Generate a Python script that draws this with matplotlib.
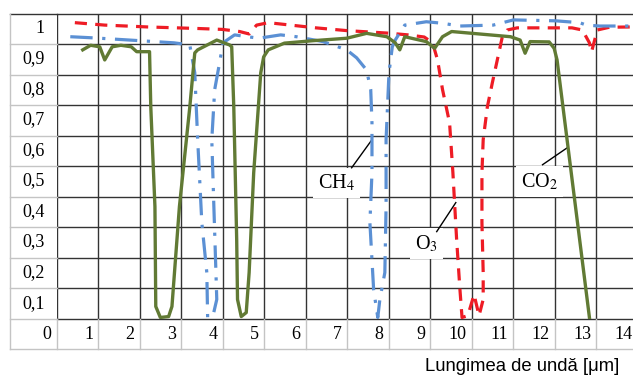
import matplotlib.pyplot as plt

plt.rcParams['mathtext.fontset'] = 'stix'

# transmission curves (x in gridline units, y = fraction)
o3_x = [0.43, 1.15, 2.18, 3.37, 3.98, 4.40, 4.63, 4.81, 5.09, 6.24, 6.98, 7.95, 8.46, 8.85,
        9.05, 9.17, 9.29, 9.46, 9.54, 9.63, 9.71, 9.76, 9.90, 10.05, 10.17, 10.27, 10.27,
        10.24, 10.24, 10.27, 10.37, 10.49, 10.61, 10.73, 10.85, 11.09, 12.41, 12.66, 12.83,
        12.88, 13.02, 13.31, 13.87]
o3_y = [0.970, 0.962, 0.956, 0.951, 0.948, 0.941, 0.933, 0.962, 0.970, 0.953, 0.944, 0.936,
        0.930, 0.923, 0.904, 0.848, 0.751, 0.642, 0.479, 0.260, 0.096, 0.005, 0.011, 0.080,
        0.011, 0.064, 0.152, 0.315, 0.479, 0.587, 0.694, 0.773, 0.848, 0.923, 0.946, 0.953,
        0.953, 0.946, 0.904, 0.874, 0.946, 0.955, 0.956]

ch4_x = [0.32, 0.91, 2.00, 2.82, 3.20, 3.32, 3.39, 3.49, 3.61, 3.63, 3.76, 3.85, 3.83, 3.78,
         3.73, 3.80, 3.93, 4.00, 4.28, 4.86, 5.39, 5.77, 6.41, 6.98, 7.22, 7.46, 7.56, 7.59,
         7.59, 7.54, 7.63, 7.73, 7.78, 7.90, 7.93, 7.93, 8.00, 8.08, 8.15, 8.38, 8.90, 9.29,
         9.71, 10.51, 11.00, 12.02, 12.59, 12.76, 13.07, 13.87]
ch4_y = [0.924, 0.920, 0.911, 0.904, 0.897, 0.806, 0.587, 0.315, 0.152, 0.005, 0.011, 0.064,
         0.152, 0.368, 0.587, 0.751, 0.848, 0.904, 0.930, 0.919, 0.930, 0.924, 0.908, 0.881,
         0.855, 0.815, 0.751, 0.642, 0.479, 0.315, 0.096, 0.005, 0.064, 0.152, 0.368, 0.587,
         0.806, 0.891, 0.913, 0.962, 0.973, 0.968, 0.959, 0.962, 0.979, 0.976, 0.970, 0.962,
         0.959, 0.959]

co2_x = [0.62, 0.81, 1.03, 1.15, 1.33, 1.54, 1.79, 1.92, 2.23, 2.26, 2.36, 2.38, 2.49, 2.69,
         2.77, 2.95, 3.20, 3.32, 3.39, 3.85, 4.16, 4.21, 4.26, 4.33, 4.35, 4.44, 4.56, 4.63,
         4.74, 4.91, 4.98, 5.09, 5.48, 6.17, 6.98, 7.46, 7.95, 8.15, 8.26, 8.38, 8.90, 9.10,
         9.29, 9.51, 10.93, 11.16, 11.28, 11.40, 11.86, 11.98, 12.05, 12.83]
co2_y = [0.881, 0.896, 0.891, 0.848, 0.891, 0.896, 0.891, 0.875, 0.875, 0.694, 0.368, 0.041,
         0.005, 0.008, 0.041, 0.368, 0.694, 0.871, 0.881, 0.913, 0.897, 0.891, 0.694, 0.260,
         0.064, 0.008, 0.021, 0.152, 0.479, 0.806, 0.858, 0.881, 0.903, 0.911, 0.919, 0.935,
         0.924, 0.904, 0.881, 0.924, 0.908, 0.886, 0.924, 0.941, 0.924, 0.913, 0.870, 0.908,
         0.907, 0.886, 0.848, 0.005]

x_ticks = list(range(0, 15))
y_ticks = [0, 0.1, 0.2, 0.3, 0.4, 0.5, 0.6, 0.7, 0.8, 0.9, 1]
y_labels = ['0', '0,1', '0,2', '0,3', '0,4', '0,5', '0,6', '0,7', '0,8', '0,9', '1']

fig = plt.figure(figsize=(6.33, 3.75), dpi=100)
ax = fig.add_axes([57 / 633, 56 / 375, 576 / 633, 305.5 / 375])
ax.set_xlim(0, 13.88)
ax.set_ylim(0, 1)

# grid of the table
for xv in x_ticks[:14]:
    ax.plot([xv, xv], [0, 1], color='#333333', lw=1.0, zorder=1)
for yv in y_ticks:
    ax.plot([0, 14.5], [yv, yv], color='#333333', lw=1.0, zorder=1, clip_on=False)
x_left = -1.13
y_bot = -0.097
light = '#c4c4c4'
for yv in y_ticks[:-1]:
    ax.plot([x_left, 0], [yv, yv], color=light, lw=1.0, clip_on=False)
ax.plot([x_left, 0], [1, 1], color='#333333', lw=1.0, clip_on=False)
for xv in x_ticks:
    ax.plot([xv, xv], [y_bot, 0], color=light, lw=1.0, clip_on=False)
ax.plot([x_left, x_left], [y_bot, 1], color=light, lw=1.0, clip_on=False)
ax.plot([x_left, 14.5], [y_bot, y_bot], color=light, lw=1.0, clip_on=False)
for s in ax.spines.values():
    s.set_visible(False)
ax.set_xticks([])
ax.set_yticks([])

# tick labels sit inside the table cells
for yv, lab in zip(y_ticks[1:], y_labels[1:]):
    ax.text(-0.29, yv - 0.048, lab, ha='right', va='center', fontsize=13,
            family='Liberation Serif', clip_on=False)
for xv in x_ticks:
    ax.text(xv - 0.13, -0.05, str(xv), ha='right', va='center', fontsize=13,
            family='Liberation Serif', clip_on=False)

# curves
ax.plot(o3_x, o3_y, color='#ee1c25', lw=2.3, dashes=(3.8, 2.6), zorder=4,
        dash_joinstyle='round')
ax.plot(ch4_x, ch4_y, color='#5b90d4', lw=2.3, dashes=(7.0, 3.0, 1.0, 3.0), zorder=4,
        dash_joinstyle='round')
ax.plot(co2_x, co2_y, color='#617a34', lw=2.4, zorder=5, solid_joinstyle='round')

# labels with leader lines
box = dict(boxstyle='square,pad=0.25', fc='white', ec='none')
ax.text(6.73, 0.445, 'CH$_4$', ha='center', va='center', fontsize=14.5,
        family='Liberation Serif', bbox=box, zorder=3)
ax.plot([7.10, 7.59], [0.495, 0.587], color='black', lw=1.0, zorder=3)
ax.text(8.90, 0.247, 'O$_3$', ha='center', va='center', fontsize=14.5,
        family='Liberation Serif', bbox=box, zorder=3)
ax.plot([9.15, 9.61], [0.286, 0.381], color='black', lw=1.0, zorder=3)
ax.text(11.63, 0.449, 'CO$_2$', ha='center', va='center', fontsize=14.5,
        family='Liberation Serif', bbox=box, zorder=3)
ax.plot([11.70, 12.29], [0.505, 0.560], color='black', lw=1.0, zorder=3)

fig.text(522 / 633, 4 / 375, 'Lungimea de undă [μm]', ha='center', va='baseline',
         fontsize=13.3, family='Liberation Sans')

fig.savefig('out.png', dpi=100)
